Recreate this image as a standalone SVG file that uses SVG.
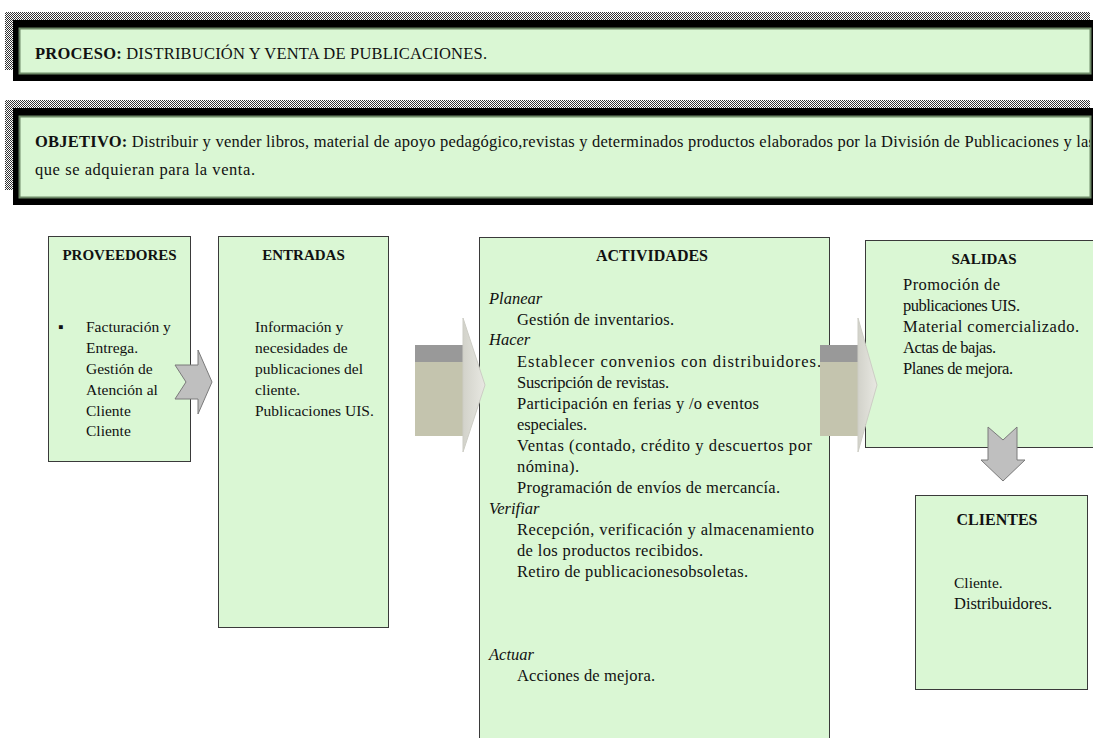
<svg xmlns="http://www.w3.org/2000/svg" width="1093" height="738" viewBox="0 0 1093 738">
<defs>
<pattern id="chk" width="2" height="2" patternUnits="userSpaceOnUse">
<rect width="2" height="2" fill="#ffffff"/>
<rect width="1" height="1" fill="#333"/>
<rect x="1" y="1" width="1" height="1" fill="#333"/>
</pattern>
<linearGradient id="head" x1="0" y1="0" x2="1" y2="0">
<stop offset="0" stop-color="#d2d2ca"/>
<stop offset="1" stop-color="#e8e8e2"/>
</linearGradient>
<clipPath id="clipObj"><rect x="20" y="117" width="1070" height="80"/></clipPath>
</defs>
<style>
.box{fill:#daf7d4;stroke:#3a3a3a;stroke-width:1}
.t{font-family:"Liberation Serif","Times New Roman",serif;font-size:15.5px;fill:#111}
.tl{font-family:"Liberation Serif","Times New Roman",serif;font-size:16.5px;fill:#111}
.h{font-family:"Liberation Serif","Times New Roman",serif;font-size:15px;font-weight:bold;fill:#111}
.hl{font-family:"Liberation Serif","Times New Roman",serif;font-size:16px;font-weight:bold;fill:#111}
.i{font-style:italic}
.hd{font-family:"Liberation Serif","Times New Roman",serif;font-size:16.5px;fill:#111}
.b{font-weight:bold}
.arr{fill:#bfbfbf;stroke:#7a7a7a;stroke-width:1}
.dark{fill:#999999}
.khaki{fill:#c4c4ae}
.hd2{fill:url(#head);stroke:#cdcdc5;stroke-width:1}
</style>
<rect width="1093" height="738" fill="#ffffff"/>

<g id="header-proceso">
<rect x="5" y="12" width="1085" height="8" fill="url(#chk)"/>
<rect x="5" y="12" width="8" height="58" fill="url(#chk)"/>
<rect x="13" y="20" width="1080" height="61" fill="#000"/>
<rect x="19.5" y="28.5" width="1071" height="45" fill="#daf7d4" stroke="#6e8a68" stroke-width="2"/>
<text class="hd" x="35" y="59" textLength="452"><tspan class="b">PROCESO:</tspan> DISTRIBUCIÓN Y VENTA DE PUBLICACIONES.</text>
</g>

<g id="header-objetivo">
<rect x="5" y="100" width="1085" height="8" fill="url(#chk)"/>
<rect x="5" y="100" width="8" height="90" fill="url(#chk)"/>
<rect x="13" y="108" width="1080" height="97" fill="#000"/>
<rect x="19.5" y="116.5" width="1071" height="81" fill="#daf7d4" stroke="#6e8a68" stroke-width="2"/>
<g clip-path="url(#clipObj)">
<text class="hd" x="35" y="147" textLength="1060"><tspan class="b">OBJETIVO:</tspan> Distribuir y vender libros, material de apoyo pedagógico,revistas y determinados productos elaborados por la División de Publicaciones y las</text>
<text class="hd" x="35" y="175" textLength="220">que se adquieran para la venta.</text>
</g>
</g>

<g id="proveedores">
<rect class="box" x="48.5" y="236.5" width="142" height="225"/>
<text class="h" x="119.5" y="260" text-anchor="middle">PROVEEDORES</text>
<text class="t" x="58" y="332">▪</text>
<text class="t" x="86" y="332">Facturación y</text>
<text class="t" x="86" y="353">Entrega.</text>
<text class="t" x="86" y="374">Gestión de</text>
<text class="t" x="86" y="395">Atención al</text>
<text class="t" x="86" y="416">Cliente</text>
<text class="t" x="86" y="436">Cliente</text>
</g>

<g id="entradas">
<rect class="box" x="218.5" y="236.5" width="170" height="391"/>
<text class="h" x="303.5" y="260" text-anchor="middle">ENTRADAS</text>
<text class="t" x="255" y="332">Información y</text>
<text class="t" x="255" y="353">necesidades de</text>
<text class="t" x="255" y="374">publicaciones del</text>
<text class="t" x="255" y="395">cliente.</text>
<text class="t" x="255" y="416">Publicaciones UIS.</text>
</g>

<g id="actividades">
<rect class="box" x="479.5" y="237.5" width="350" height="510"/>
<text class="hl" x="652" y="261" text-anchor="middle">ACTIVIDADES</text>
<text class="tl i" x="489" y="304">Planear</text>
<text class="tl" x="517" y="325" textLength="157">Gestión de inventarios.</text>
<text class="tl i" x="489" y="345">Hacer</text>
<text class="tl" x="517" y="367" textLength="304">Establecer convenios con distribuidores.</text>
<text class="tl" x="517" y="388" textLength="152">Suscripción de revistas.</text>
<text class="tl" x="517" y="409" textLength="242">Participación en ferias y /o eventos</text>
<text class="tl" x="517" y="430" textLength="70">especiales.</text>
<text class="tl" x="517" y="451" textLength="295">Ventas (contado, crédito y descuertos por</text>
<text class="tl" x="517" y="472" textLength="62">nómina).</text>
<text class="tl" x="517" y="493" textLength="263">Programación de envíos de mercancía.</text>
<text class="tl i" x="489" y="514">Verifiar</text>
<text class="tl" x="517" y="535" textLength="297">Recepción, verificación y almacenamiento</text>
<text class="tl" x="517" y="556" textLength="186">de los productos recibidos.</text>
<text class="tl" x="517" y="577" textLength="231">Retiro de publicacionesobsoletas.</text>
<text class="tl i" x="489" y="660">Actuar</text>
<text class="tl" x="517" y="681" textLength="138">Acciones de mejora.</text>
</g>

<g id="salidas">
<rect class="box" x="865.5" y="240.5" width="230" height="207"/>
<text class="h" x="984" y="264" text-anchor="middle">SALIDAS</text>
<text class="tl" x="903" y="290" textLength="97">Promoción de</text>
<text class="tl" x="903" y="311" textLength="117">publicaciones UIS.</text>
<text class="tl" x="903" y="332" textLength="176">Material comercializado.</text>
<text class="tl" x="903" y="353" textLength="93">Actas de bajas.</text>
<text class="tl" x="903" y="374" textLength="110">Planes de mejora.</text>
</g>

<g id="clientes">
<rect class="box" x="915.5" y="495.5" width="172" height="194"/>
<text class="hl" x="997" y="525" text-anchor="middle">CLIENTES</text>
<text class="t" x="954" y="588">Cliente.</text>
<text class="tl" x="954" y="609" textLength="98">Distribuidores.</text>
</g>

<g id="connectors">
<polygon class="arr" points="175,365 198,365 198,350 212,382 198,414 198,399 175,399 186,382"/>
<g id="arrow-entradas-actividades">
<rect class="dark" x="415" y="345" width="50" height="17"/>
<rect class="khaki" x="415" y="362" width="50" height="74"/>
<polygon class="hd2" points="463,318 485,385 463,452"/>
</g>
<g id="arrow-actividades-salidas">
<rect class="dark" x="820" y="345" width="42" height="17"/>
<rect class="khaki" x="820" y="362" width="42" height="74"/>
<polygon class="hd2" points="858,318 877,385 858,452"/>
</g>
<polygon class="arr" points="988,427 1003,440 1017,427 1017,460 1025,460 1003,481 981,460 988,460"/>
</g>
</svg>
